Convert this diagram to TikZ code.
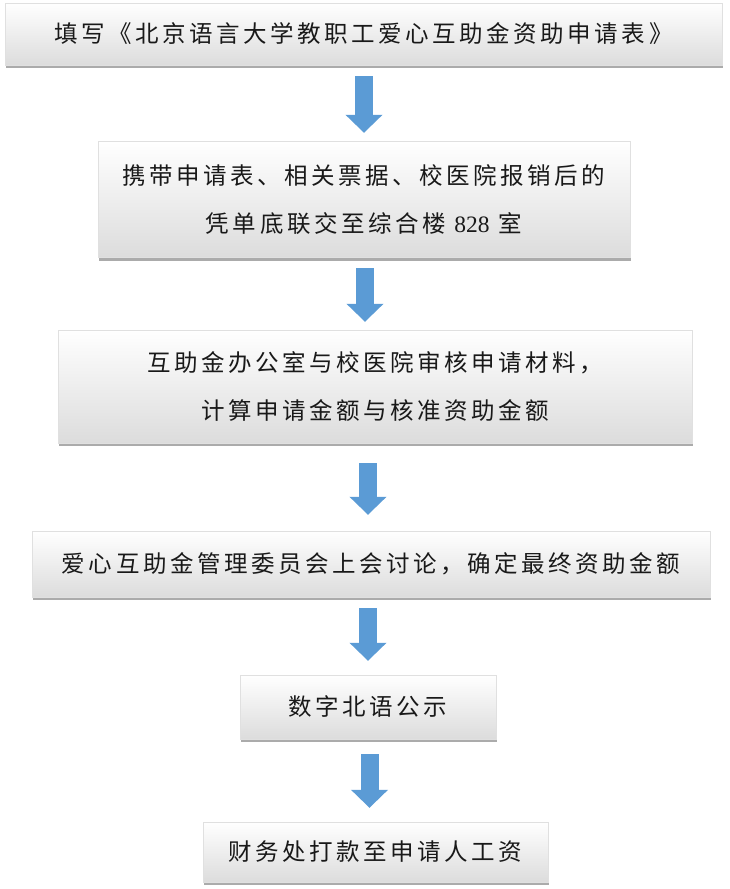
\documentclass[tikz,border=0pt]{standalone}
\usepackage{fontspec}
\setmainfont{Liberation Serif}
\newfontfamily\cjk[LetterSpace=15]{Noto Sans CJK SC}
\usetikzlibrary{arrows.meta,shadows}
\definecolor{arrowblue}{HTML}{5B9BD5}
\definecolor{boxgray}{HTML}{DCDCDC}
\tikzset{
  stepbox/.style={rectangle, draw=black!12, inner sep=0pt, align=center,
    top color=white, middle color=white, bottom color=boxgray,
    drop shadow={shadow xshift=1pt, shadow yshift=-3pt, opacity=0.6, fill=black!55},
    text=black!90, font=\cjk\fontsize{23.5}{48}\selectfont},
  flowarrow/.style={draw=arrowblue, line width=18pt, -{Triangle[width=36pt,length=18pt]}}
}
\begin{document}
\begin{tikzpicture}[x=1pt,y=-1pt]
                \useasboundingbox (0,0) rectangle (730,889);
                \node[stepbox, minimum width=717pt, minimum height=62pt] (form) at (363.5,34) {填写《北京语言大学教职工爱心互助金资助申请表》};
                \node[stepbox, minimum width=532pt, minimum height=116pt] (hand) at (364,199.5) {携带申请表、相关票据、校医院报销后的\\凭单底联交至综合楼 {\rmfamily 828} 室};
                \node[stepbox, minimum width=634pt, minimum height=113pt] (check) at (375,386.5) {互助金办公室与校医院审核申请材料，\\计算申请金额与核准资助金额};
                \node[stepbox, minimum width=678pt, minimum height=66pt] (board) at (371,564) {爱心互助金管理委员会上会讨论，确定最终资助金额};
                \node[stepbox, minimum width=256pt, minimum height=64pt] (post) at (368,707) {数字北语公示};
                \node[stepbox, minimum width=345pt, minimum height=60pt] (pay) at (375.5,852) {财务处打款至申请人工资};
                \draw [flowarrow] ([xshift=0.5pt,yshift=-11pt]form.south) -- ([yshift=8.5pt]hand.north);
                \draw [flowarrow] ([xshift=1pt,yshift=-10.5pt]hand.south) -- ([xshift=-10pt,yshift=8pt]check.north);
                \draw [flowarrow] ([xshift=-7pt,yshift=-20pt]check.south) -- ([xshift=-3pt,yshift=16pt]board.north);
                \draw [flowarrow] ([xshift=-3pt,yshift=-11pt]board.south) -- ([yshift=14pt]post.north);
                \draw [flowarrow] ([xshift=1.5pt,yshift=-15pt]post.south) -- ([xshift=-6pt,yshift=14pt]pay.north);
            \end{tikzpicture}
\end{document}
